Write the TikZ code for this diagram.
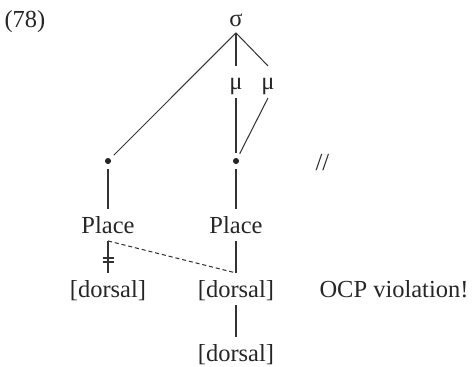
\documentclass[tikz,border=0pt]{standalone}
\usepackage{fontspec}
\setmainfont{Liberation Serif}
\usetikzlibrary{calc}
\begin{document}
\begin{tikzpicture}[x=0.49pt,y=-0.49pt, line width=0.5pt,
  txt/.style={inner sep=0pt, anchor=base, font=\fontsize{12}{14}\selectfont, text=black!85},
  dotnode/.style={circle, fill=black!85, inner sep=0pt, minimum size=3pt, outer sep=2.5pt},
  ln/.style={draw=black!80},
  dsh/.style={draw=black!80, dash pattern=on 2pt off 1.4pt}]
\useasboundingbox (0,0) rectangle (472,367);
\node[txt, anchor=base west] (num) at (4,27) {(78)};
\node[txt] (sigma) at (236,26) {σ};
\node[txt] (muL) at (236,90) {μ};
\node[txt] (muR) at (268,90) {μ};
\node[dotnode] (dotL) at (108,161) {};
\node[dotnode] (dotR) at (236,161) {};
\node[txt] (placeL) at (108,233) {Place};
\node[txt] (placeR) at (236,233) {Place};
\node[txt] (dorsL) at (108,297) {[dorsal]};
\node[txt] (dorsR) at (236,297) {[dorsal]};
\node[txt] (dorsB) at (236,361) {[dorsal]};
\node[txt, anchor=base west] (slash) at (315,170) {//};
\node[txt, anchor=base west] (ocp) at (319,297) {OCP violation!};
\draw[ln] ([yshift=-3.4pt]sigma.base) -- (dotL);
\draw[ln] ([yshift=-3.4pt]sigma.base) -- ([yshift=11.8pt]muL.base);
\draw[ln] ([yshift=-3.4pt]sigma.base) -- ([yshift=11.8pt]muR.base);
\draw[ln] ([yshift=-3.9pt]muL.base) -- (dotR);
\draw[ln] ([yshift=-3.9pt]muR.base) -- (dotR);
\draw[ln] (dotL) -- ([yshift=11.8pt]placeL.base);
\draw[ln] (dotR) -- ([yshift=11.8pt]placeR.base);
\draw[ln] ([yshift=-3.9pt]placeL.base) -- ([yshift=11.8pt]dorsL.base);
\draw[ln] ($(placeL.base)+(-5.5,25)$) -- ($(placeL.base)+(5.5,25)$);
\draw[ln] ($(placeL.base)+(-5.5,29)$) -- ($(placeL.base)+(5.5,29)$);
\draw[ln] ([yshift=-3.9pt]placeR.base) -- ([yshift=11.8pt]dorsR.base);
\draw[dsh] ([yshift=-3.9pt]placeL.base) -- ([yshift=11.8pt]dorsR.base);
\draw[ln] ([yshift=-3.9pt]dorsR.base) -- ([yshift=11.8pt]dorsB.base);
\end{tikzpicture}
\end{document}
